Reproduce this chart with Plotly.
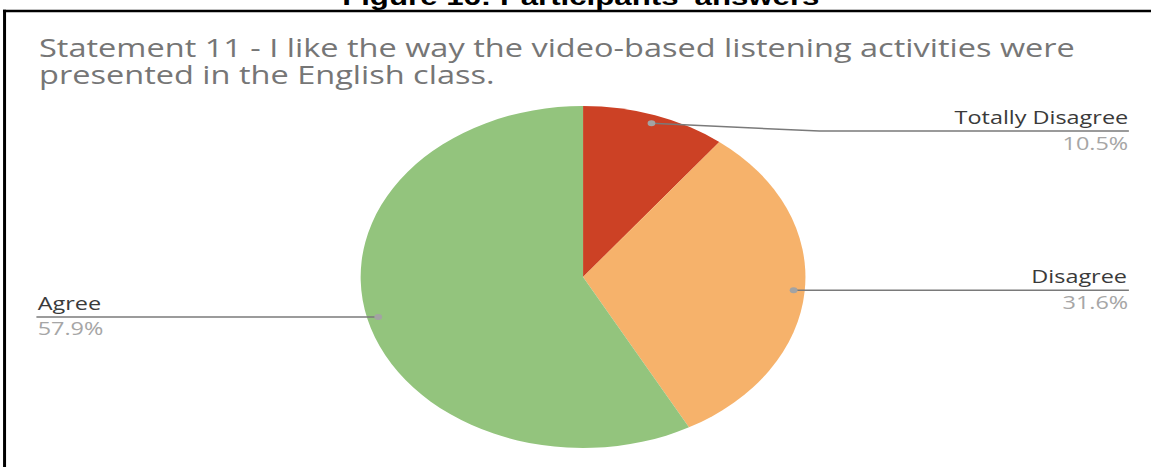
import math
import plotly.graph_objects as go

# ---- data -------------------------------------------------------------
categories = ["Totally Disagree", "Disagree", "Agree"]
percentages = [10.5, 31.6, 57.9]
pct_labels = ["10.5%", "31.6%", "57.9%"]
slice_colors = ["#CC4125", "#F6B26B", "#93C47D"]
label_sides = ["right", "right", "left"]

title_lines = [
    "Statement 11 - I like the way the video-based listening activities were",
    "presented in the English class.",
]
caption = "Figure 16: Participants' answers"

# ---- layout geometry (pixels of the unscaled drawing) -----------------
W, H = 885, 467
STRETCH = 1151 / W          # the page widens the whole drawing horizontally
CX, CY, R = 448.3, 277.0, 171.0
DOT_R = 0.95                # leader dots sit at 95% of the radius
LEADER_DROP = [7.7, 0.0, 0.0]
ELBOW_X = 630.0
RIGHT_X = 868.0
LEFT_X = 28.0

LINE_COLOR = "#7a7a7a"
DOT_COLOR = "#a3a3a3"
NAME_COLOR = "#3a3a3a"
PCT_COLOR = "#a6a6a6"
TITLE_COLOR = "#767676"


def px(x):
    return x / W


def py(y):
    return 1 - y / H


fig = go.Figure()

fig.add_trace(go.Pie(
    labels=categories,
    values=percentages,
    sort=False,
    direction="clockwise",
    rotation=0,
    textinfo="none",
    hoverinfo="label+percent",
    marker=dict(colors=slice_colors, line=dict(width=0)),
    showlegend=False,
    domain=dict(x=[px(CX - R), px(CX + R)], y=[py(CY + R), py(CY - R)]),
))

shapes = []
annotations = []

# leader lines, dots and labels
total = sum(percentages)
cum = 0.0
for name, val, pct, side, drop in zip(categories, percentages, pct_labels,
                                      label_sides, LEADER_DROP):
    mid = (cum + val / 2) / total * 2 * math.pi
    cum += val
    dx = CX + DOT_R * R * math.sin(mid)
    dy = CY - DOT_R * R * math.cos(mid)
    ly = dy + drop
    if side == "right":
        path = f"M {px(dx)},{py(dy)} L {px(max(ELBOW_X, dx))},{py(ly)} L {px(RIGHT_X)},{py(ly)}"
        tx, anchor = RIGHT_X, "right"
    else:
        path = f"M {px(dx)},{py(dy)} L {px(LEFT_X)},{py(ly)}"
        tx, anchor = LEFT_X, "left"
    shapes.append(dict(type="path", xref="paper", yref="paper", path=path,
                       line=dict(color=LINE_COLOR, width=1.5), layer="above"))
    rr = 3.0
    shapes.append(dict(type="circle", xref="paper", yref="paper",
                       x0=px(dx - rr), x1=px(dx + rr), y0=py(dy + rr), y1=py(dy - rr),
                       fillcolor=DOT_COLOR, line=dict(width=0), layer="above"))
    annotations.append(dict(x=px(tx), y=py(ly - 14), xref="paper", yref="paper",
                            xanchor=anchor, yanchor="middle", showarrow=False,
                            text=name, borderpad=0,
                            font=dict(family="Open Sans", size=18, color=NAME_COLOR)))
    annotations.append(dict(x=px(tx), y=py(ly + 11.5), xref="paper", yref="paper",
                            xanchor=anchor, yanchor="middle", showarrow=False,
                            text=pct, borderpad=0,
                            font=dict(family="Open Sans", size=18, color=PCT_COLOR)))

# chart title, two lines
for line, yc in zip(title_lines, [47.0, 73.6]):
    annotations.append(dict(x=px(28.5), y=py(yc), xref="paper", yref="paper",
                            xanchor="left", yanchor="middle", showarrow=False,
                            text=line, borderpad=0,
                            font=dict(family="Open Sans", size=25, color=TITLE_COLOR)))

# figure caption above the frame
annotations.append(dict(x=px(446.7), y=py(-3.3), xref="paper", yref="paper",
                        xanchor="center", yanchor="middle", showarrow=False,
                        text=f"<b>{caption}</b>", borderpad=0,
                        font=dict(family="Liberation Sans, Arial", size=24, color="#000000")))

# frame: top and left edges
shapes.append(dict(type="line", xref="paper", yref="paper",
                   x0=px(2.3), x1=1.0, y0=py(11), y1=py(11),
                   line=dict(color="#000000", width=2.7), layer="above"))
shapes.append(dict(type="line", xref="paper", yref="paper",
                   x0=px(3.5), x1=px(3.5), y0=py(9.7), y1=0,
                   line=dict(color="#000000", width=2.3), layer="above"))

fig.update_layout(
    width=W, height=H,
    margin=dict(l=0, r=0, t=0, b=0),
    paper_bgcolor="#ffffff",
    plot_bgcolor="#ffffff",
    showlegend=False,
    shapes=shapes,
    annotations=annotations,
)

post = ("var gd=document.getElementById('{plot_id}');"
        "gd.style.transformOrigin='0 0';"
        "gd.style.transform='scaleX(" + f"{STRETCH:.5f}" + ")';"
        "document.body.style.margin='0';")

fig.write_html("out.html", config={"displayModeBar": False}, post_script=post)
